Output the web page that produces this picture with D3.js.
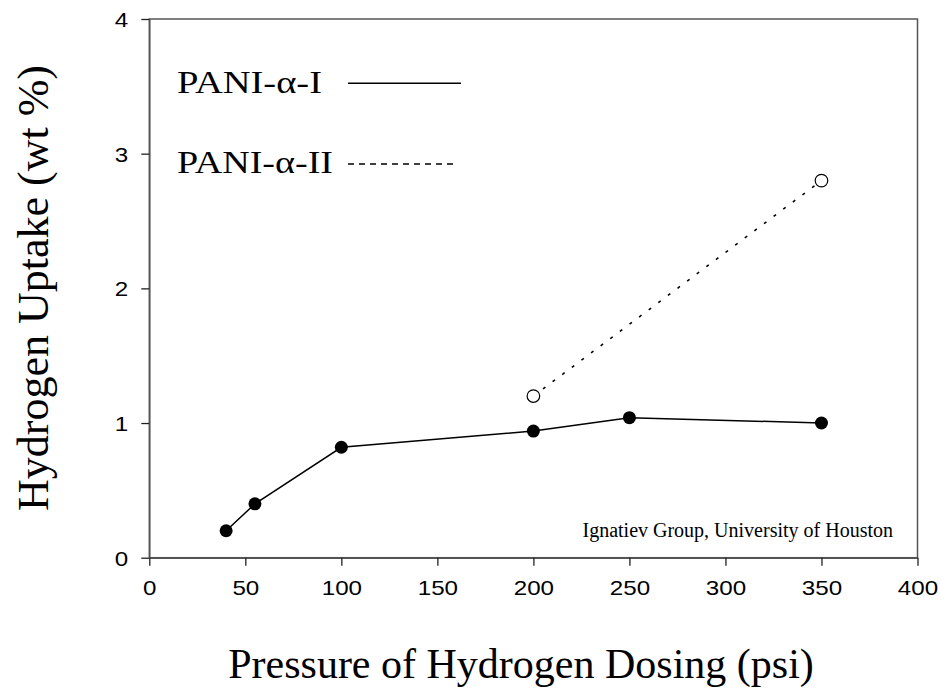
<!DOCTYPE html>
<html><head><meta charset="utf-8">
<script src="https://cdn.jsdelivr.net/npm/d3@7"></script>
<style>body{margin:0;background:#fff}</style>
</head><body>
<svg id="c" width="941" height="688"></svg>
<script>
const xTicks = [0,50,100,150,200,250,300,350,400];
const yTicks = [0,1,2,3,4];
const s1x = [40,55,100,200,250,350];
const s1y = [0.2,0.4,0.82,0.94,1.04,1.0];
const s2x = [200,350];
const s2y = [1.2,2.8];
const legendLabels = ["PANI-\u03b1-I","PANI-\u03b1-II"];
const xTitle = "Pressure of Hydrogen Dosing (psi)";
const yTitle = "Hydrogen Uptake (wt %)";
const note = "Ignatiev Group, University of Houston";

const svg = d3.select("#c");
const L=149.3,R=917.5,T=19,B=557.7;
const x = d3.scaleLinear().domain([0,400]).range([L,R]);
const y = d3.scaleLinear().domain([0,4]).range([B,T]);
const axColor="#555";
svg.append("rect").attr("x",L).attr("y",T).attr("width",R-L).attr("height",B-T)
  .attr("fill","none").attr("stroke",axColor).attr("stroke-width",1.5);
const xa = svg.append("g").attr("transform",`translate(0,${B})`)
  .call(d3.axisBottom(x).tickValues(xTicks).tickFormat(d3.format("d")).tickSize(8).tickPadding(14).tickSizeOuter(0));
const ya = svg.append("g").attr("transform",`translate(${L},0)`)
  .call(d3.axisLeft(y).tickValues(yTicks).tickFormat(d3.format("d")).tickSize(8).tickPadding(13).tickSizeOuter(0));
[xa,ya].forEach(g=>{
  g.select(".domain").attr("stroke",axColor).attr("stroke-width",1.5);
  g.selectAll(".tick line").attr("stroke","#222").attr("stroke-width",1.3);
  g.selectAll("text").attr("font-family","Liberation Sans, Arial, sans-serif").attr("font-size",21).attr("fill","#000");
});
ya.selectAll("text").attr("dy","0.35em");
xa.selectAll("text").attr("dy","0.71em");
// slight horizontal widening like the reference
[xa,ya].forEach(g=>g.selectAll(".tick text").each(function(){
  const w=this.getComputedTextLength();
  d3.select(this).attr("textLength",w*1.15).attr("lengthAdjust","spacingAndGlyphs");
}));

const line = d3.line().x(d=>x(d[0])).y(d=>y(d[1]));
const d1 = s1x.map((v,i)=>[v,s1y[i]]);
const d2 = s2x.map((v,i)=>[v,s2y[i]]);
svg.append("path").attr("d",line(d2)).attr("fill","none").attr("stroke","#000")
  .attr("stroke-width",1.6).attr("stroke-dasharray","3,9");
svg.append("path").attr("d",line(d1)).attr("fill","none").attr("stroke","#000").attr("stroke-width",1.5);
svg.selectAll(".p1").data(d1).enter().append("circle")
  .attr("cx",d=>x(d[0])).attr("cy",d=>y(d[1])).attr("r",6.5).attr("fill","#000");
svg.selectAll(".p2").data(d2).enter().append("circle")
  .attr("cx",d=>x(d[0])).attr("cy",d=>y(d[1])).attr("r",6.3).attr("fill","#fff").attr("stroke","#000").attr("stroke-width",1.2);

const tf="Liberation Serif, 'Times New Roman', serif";
svg.append("text").attr("x",177).attr("y",93.3).attr("font-family",tf).attr("font-size",32)
  .attr("textLength",145).attr("lengthAdjust","spacingAndGlyphs").text(legendLabels[0]);
svg.append("line").attr("x1",348).attr("x2",461).attr("y1",83.3).attr("y2",83.3).attr("stroke","#000").attr("stroke-width",1.6);
svg.append("text").attr("x",177).attr("y",172.5).attr("font-family",tf).attr("font-size",32)
  .attr("textLength",156).attr("lengthAdjust","spacingAndGlyphs").text(legendLabels[1]);
svg.append("line").attr("x1",348).attr("x2",453).attr("y1",164).attr("y2",164).attr("stroke","#000").attr("stroke-width",1.6).attr("stroke-dasharray","6,5");

svg.append("text").attr("x",893).attr("y",536.5).attr("text-anchor","end").attr("font-family",tf).attr("font-size",20).text(note);

svg.append("text").attr("x",521).attr("y",678).attr("text-anchor","middle").attr("font-family",tf).attr("font-size",42).text(xTitle);
svg.append("text").attr("transform","translate(48,288) rotate(-90)").attr("text-anchor","middle").attr("font-family",tf).attr("font-size",44).text(yTitle);
</script>
</body></html>
